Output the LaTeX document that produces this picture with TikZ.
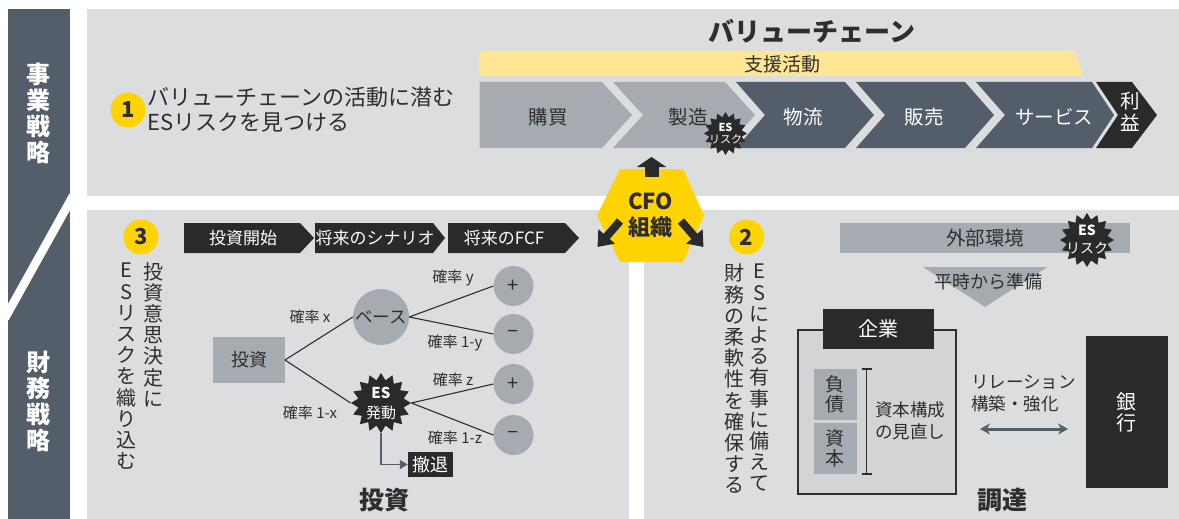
\documentclass[tikz,border=0pt]{standalone}
\usepackage{fontspec}
\setmainfont{Noto Sans CJK JP}
\usetikzlibrary{arrows.meta,shapes.geometric}

\definecolor{slate}{HTML}{545E6B}
\definecolor{panel}{HTML}{DCDDDF}
\definecolor{midgrey}{HTML}{A6ABB2}
\definecolor{inkblack}{HTML}{2A2A2A}
\definecolor{inktext}{HTML}{2E2E2E}
\definecolor{cfoyellow}{HTML}{FFD400}
\definecolor{paleyellow}{HTML}{FFE594}
\definecolor{framefill}{HTML}{D3D4D6}

\begin{document}
\begin{tikzpicture}[x=1pt,y=-1pt,
  every node/.style={inner sep=0pt,text=inktext},
  txt/.style={font=\fontsize{#1}{#1}\selectfont},
  bfont/.style={font=\bfseries\fontsize{#1}{#1}\selectfont},
  vcol/.style={align=center,anchor=north,font=\fontsize{20}{21.2}\selectfont},
  num/.style={circle,fill=cfoyellow,minimum size=35pt,font=\bfseries\fontsize{22}{22}\selectfont},
  burst/.style={star,star points=16,star point ratio=1.3,fill=inkblack,minimum size=#1},
  ball/.style={circle,fill=midgrey,minimum size=40pt,font=\fontsize{20}{20}\selectfont},
  prob/.style={font=\fontsize{15}{15}\selectfont},
  treeline/.style={draw=inktext,line width=1.1pt}]
\useasboundingbox (0,0) rectangle (1179,519);
\fill[white] (0,0) rectangle (1179,519);

% left strip
\fill[slate] (7.5,9) rectangle (70,519);
\draw[white,line width=8.5pt] (73,196) -- (5,318);
\node[align=center,text=white,font=\bfseries\fontsize{24}{26}\selectfont] (bizstrat) at (38,113.5) {事\\業\\戦\\略};
\node[align=center,text=white,font=\bfseries\fontsize{24}{26}\selectfont] (finstrat) at (38,401.5) {財\\務\\戦\\略};

% panels
\fill[panel] (87,9) rectangle (1179,196);
\fill[panel] (87,210) rectangle (629,519);
\fill[panel] (644,210) rectangle (1179,519);

% value chain
\node[bfont=26] (vctitle) at (812,31) {バリューチェーン};
\fill[paleyellow] (479.5,51) -- (1075,51) -- (1083,76) -- (479.5,76) -- cycle;
\node[txt=19] (support) at (782,64) {支援活動};
\fill[midgrey] (479.5,82) -- (602,82) -- (632,115) -- (602,148) -- (479.5,148) -- cycle;
\fill[midgrey] (613,82) -- (725,82) -- (755,115) -- (725,148) -- (613,148) -- (643,115) -- cycle;
\fill[slate] (736,82) -- (845,82) -- (874,115) -- (845,148) -- (736,148) -- (765,115) -- cycle;
\fill[slate] (856,82) -- (965,82) -- (994,115) -- (965,148) -- (856,148) -- (885,115) -- cycle;
\fill[slate] (976,82) -- (1092,82) -- (1114,115) -- (1092,148) -- (976,148) -- (1005,115) -- cycle;
\fill[inkblack] (1096,82) -- (1132,82) -- (1157,115) -- (1132,148) -- (1096,148) -- (1118,115) -- cycle;
\node[txt=19.5] (purchase) at (548,117) {購買};
\node[txt=19.5] (make) at (688,117) {製造};
\node[txt=19.5,text=white] (logistics) at (803,117) {物流};
\node[txt=19.5,text=white] (sales) at (924,117) {販売};
\node[txt=19.5,text=white] (service) at (1054,117) {サービス};
\node[align=center,text=white,font=\fontsize{19.5}{22}\selectfont] (profit) at (1130,112) {利\\益};
\node[burst=43pt] (esvc) at (725.5,133.5) {};
\node[text=white,align=center,font=\fontsize{11}{12}\selectfont] (esvclabel) at (esvc) {\textbf{ES}\\リスク};

\node[num] (n1) at (128,110) {1};
\node[align=left,anchor=west,font=\fontsize{22}{25}\selectfont] (find) at (147,109.5) {バリューチェーンの活動に潜む\\ESリスクを見つける};

% CFO
\fill[cfoyellow] (597,215.5) -- (620,169) -- (683,169) -- (704,215.5) -- (683,262) -- (620,262) -- cycle;
\node[align=center,font=\bfseries\fontsize{22}{26}\selectfont] (cfo) at (650.5,215) {CFO\\組織};
\draw[inkblack,line width=14pt,-{Triangle[width=29pt,length=10pt]}] (651.5,177) -- (651.5,157);
\draw[inkblack,line width=8pt,-{Triangle[width=21pt,length=14pt]}] (620,221) -- (597.5,247);
\draw[inkblack,line width=8pt,-{Triangle[width=21pt,length=14pt]}] (681,221) -- (703.5,247);

% investment
\node[num] (n3) at (141,237) {3};
\node[vcol] (invcol1) at (153,262) {投\\資\\意\\思\\決\\定\\に};
\node[vcol] (invcol2) at (126.5,263) {E\\S\\リ\\ス\\ク\\を\\織\\り\\込\\む};
\fill[inkblack] (184,223) -- (300,223) -- (314,238) -- (300,253) -- (184,253) -- cycle;
\fill[inkblack] (315,223) -- (433,223) -- (445,238) -- (433,253) -- (315,253) -- cycle;
\fill[inkblack] (448,223) -- (565,223) -- (579,238) -- (565,253) -- (448,253) -- cycle;
\node[txt=17,text=white] (start) at (243,238) {投資開始};
\node[txt=17,text=white] (scenario) at (375,238) {将来のシナリオ};
\node[txt=17,text=white] (fcf) at (504,238) {将来のFCF};

\node[fill=midgrey,minimum width=71.5pt,minimum height=46pt,txt=18] (inv) at (249,360) {投資};
\node[ball,minimum size=56pt,txt=17.5] (base) at (381,317) {ベース};
\node[burst=60pt] (esgo) at (381,403) {};
\node[text=white,align=center,font=\fontsize{15}{20}\selectfont] (esgolabel) at (esgo) {\textbf{ES}\\発動};
\node[ball] (p1) at (513.5,286) {+};
\node[ball] (m1) at (513.5,334) {−};
\node[ball] (p2) at (513.5,384) {+};
\node[ball] (m2) at (513.5,435) {−};
\draw[treeline] (inv.east) -- (base.west);
\draw[treeline] (inv.east) -- (esgo.west);
\draw[treeline] (base.east) -- (p1.west);
\draw[treeline] (base.east) -- (m1.west);
\draw[treeline] (esgo.east) -- (p2.west);
\draw[treeline] (esgo.east) -- (m2.west);
\node[prob] (px) at (310,317) {確率 x};
\node[prob] (pnx) at (310,413) {確率 1-x};
\node[prob] (py) at (453,278) {確率 y};
\node[prob] (pny) at (455,343) {確率 1-y};
\node[prob] (pz) at (453,380) {確率 z};
\node[prob] (pnz) at (455,438) {確率 1-z};
\node[fill=inkblack,text=white,minimum width=45pt,minimum height=25pt,txt=18] (exit) at (430.5,464.5) {撤退};
\draw[slate,line width=1.5pt,-{Triangle[width=9pt,length=8pt]}] (esgo.south) |- (exit.west);
\node[bfont=25] (invtitle) at (384,500) {投資};

% procurement
\node[num] (n2) at (746.6,237) {2};
\node[vcol] (fincol1) at (759,264) {E\\S\\に\\よ\\る\\有\\事\\に\\備\\え\\て};
\node[vcol] (fincol2) at (734,264) {財\\務\\の\\柔\\軟\\性\\を\\確\\保\\す\\る};
\node[fill=midgrey,minimum width=290pt,minimum height=30pt,txt=19.5] (env) at (985,238) {外部環境};
\node[burst=54pt] (esenv) at (1087,240) {};
\node[text=white,align=center,font=\fontsize{14}{18}\selectfont] (esenvlabel) at (esenv) {\textbf{ES}\\リスク};
\fill[midgrey] (923,267) -- (1047.5,267) -- (985,307) -- cycle;
\node[txt=18] (prep) at (988,282) {平時から準備};

\node[draw=inktext,line width=2pt,fill=framefill,minimum width=158pt,minimum height=164pt] (firm) at (877,412) {};
\node[fill=inkblack,text=white,minimum width=111pt,minimum height=40pt,txt=20] (firmhead) at (878.5,329) {企業};
\node[fill=midgrey,minimum width=42.6pt,minimum height=51pt,align=center,font=\fontsize{19}{20}\selectfont] (debt) at (835.3,394.5) {負\\債};
\node[fill=midgrey,minimum width=42.6pt,minimum height=51pt,align=center,font=\fontsize{19}{20}\selectfont] (equity) at (835.3,448.5) {資\\本};
\draw[inktext,line width=1.2pt] (861.5,369) -- (872,369) (866.6,369) -- (866.6,474) (861.5,474) -- (872,474);
\node[align=center,font=\fontsize{17.5}{22}\selectfont] (restr) at (910,421) {資本構成\\の見直し};
\node[align=left,anchor=west,font=\fontsize{17.5}{22}\selectfont] (rel) at (971,394) {リレーション\\構築・強化};
\node[fill=inkblack,text=white,minimum width=82pt,minimum height=152pt,align=center,font=\fontsize{20}{21}\selectfont] (bank) at (1126.6,412) {銀\\行};
\coordinate (relL) at (980,429);
\coordinate (relR) at (1068,429);
\draw[slate,line width=3pt,{Stealth[length=10pt,width=11pt]}-{Stealth[length=10pt,width=11pt]}] (relL) -- (relR);
\node[bfont=25] (proctitle) at (1002.5,500) {調達};
\end{tikzpicture}
\end{document}
